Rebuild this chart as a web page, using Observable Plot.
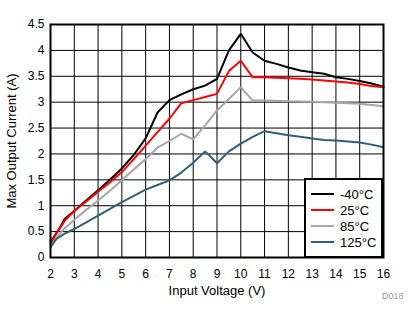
<!DOCTYPE html>
<html>
<head>
<meta charset="utf-8">
<script src="https://cdn.jsdelivr.net/npm/d3@7"></script>
<script src="https://cdn.jsdelivr.net/npm/@observablehq/plot@0.6"></script>
<style>
  body { margin: 0; background: #fff; }
  #wrap { position: relative; width: 420px; height: 324px; font-family: "Liberation Sans", Arial, sans-serif; }
  #legend { position: absolute; left: 304px; top: 178px; width: 79px; height: 80px; box-sizing: border-box; border: 2px solid #000; background: #fff; }
  .row { position: absolute; left: 5px; height: 16px; display: flex; align-items: center; font-size: 13px; color: #000; }
  .sw { width: 23px; height: 2px; margin-right: 6px; }
  #code { position: absolute; left: 382px; top: 291px; font-size: 9px; color: #999; }
</style>
</head>
<body>
<div id="wrap"></div>
<script>
const seriesNames = ["-40°C", "25°C", "85°C", "125°C"];
const seriesColors = ["#000000", "#ff0000", "#a6a6a6", "#2f6079"];

const vM40 = [2, 2.4, 2.6, 3, 3.5, 4, 4.5, 5, 5.5, 6, 6.5, 7, 7.5, 8, 8.5, 9, 9.5, 10, 10.5, 11, 11.5, 12, 12.5, 13, 13.5, 14, 14.5, 15, 15.5, 16];
const aM40 = [0.30, 0.58, 0.75, 0.90, 1.10, 1.30, 1.50, 1.72, 1.98, 2.30, 2.80, 3.04, 3.15, 3.25, 3.32, 3.45, 4.00, 4.32, 3.96, 3.80, 3.74, 3.67, 3.61, 3.58, 3.55, 3.48, 3.45, 3.41, 3.36, 3.30];

const v25 = [2, 2.3, 2.6, 3, 3.5, 4, 4.5, 5, 5.5, 6, 6.5, 7, 7.5, 8, 8.5, 9, 9.5, 10, 10.5, 11, 11.5, 12, 12.5, 13, 13.5, 14, 14.5, 15, 15.5, 16];
const a25 = [0.26, 0.50, 0.71, 0.90, 1.08, 1.27, 1.45, 1.65, 1.90, 2.16, 2.42, 2.68, 2.98, 3.04, 3.10, 3.16, 3.60, 3.80, 3.48, 3.48, 3.47, 3.46, 3.45, 3.44, 3.42, 3.40, 3.38, 3.35, 3.31, 3.29];

const v85 = [2, 2.5, 3, 3.5, 4, 4.5, 5, 5.5, 6, 6.5, 7, 7.5, 8, 8.5, 9, 9.5, 10, 10.5, 11, 12, 13, 13.5, 14, 15, 16];
const a85 = [0.23, 0.52, 0.73, 0.92, 1.10, 1.29, 1.49, 1.70, 1.90, 2.12, 2.25, 2.39, 2.28, 2.55, 2.84, 3.06, 3.29, 3.03, 3.03, 3.02, 3.01, 3.00, 2.99, 2.97, 2.92];

const v125 = [2, 2.25, 2.6, 3, 3.5, 4, 4.5, 5, 5.5, 6, 6.5, 7, 7.5, 8, 8.5, 9, 9.5, 10, 10.5, 11, 11.5, 12, 12.5, 13, 13.5, 14, 14.5, 15, 15.5, 16];
const a125 = [0.20, 0.36, 0.46, 0.55, 0.68, 0.81, 0.94, 1.07, 1.19, 1.31, 1.40, 1.49, 1.64, 1.83, 2.05, 1.82, 2.05, 2.20, 2.33, 2.44, 2.40, 2.36, 2.33, 2.30, 2.27, 2.26, 2.24, 2.22, 2.18, 2.13];

const xTicks = [2, 3, 4, 5, 6, 7, 8, 9, 10, 11, 12, 13, 14, 15, 16];
const yTicks = [0, 0.5, 1, 1.5, 2, 2.5, 3, 3.5, 4, 4.5];

const allV = [vM40, v25, v85, v125];
const allA = [aM40, a25, a85, a125];
const data = [];
allV.forEach((vs, i) => vs.forEach((v, j) => data.push({s: seriesNames[i], v, a: allA[i][j]})));

const chart = Plot.plot({
  width: 420,
  height: 324,
  marginLeft: 50,
  marginRight: 37,
  marginTop: 24,
  marginBottom: 67,
  style: { fontFamily: "'Liberation Sans', Arial, sans-serif", fontSize: "12px", color: "#000", background: "#fff" },
  x: { domain: [2, 16] },
  y: { domain: [0, 4.5] },
  color: { domain: seriesNames, range: seriesColors },
  marks: [
    Plot.gridX(xTicks, { stroke: "#000", strokeOpacity: 1, strokeWidth: 1 }),
    Plot.gridY(yTicks, { stroke: "#000", strokeOpacity: 1, strokeWidth: 1 }),
    Plot.axisX(xTicks, { tickSize: 0, tickPadding: 12, tickFormat: d => String(d), label: "Input Voltage (V)", labelAnchor: "center", labelArrow: "none", labelOffset: 37, fontSize: 12 }),
    Plot.axisY(yTicks, { tickSize: 0, tickPadding: 6, tickFormat: d => String(d), label: "Max Output Current (A)", labelAnchor: "center", labelArrow: "none", labelOffset: 44 }),
    Plot.line(data, { x: "v", y: "a", z: "s", stroke: "s", strokeWidth: 2, strokeLinejoin: "miter" }),
    Plot.frame({ stroke: "#000", strokeWidth: 2 })
  ]
});
chart.querySelectorAll('[aria-label="x-axis label"] text, [aria-label="y-axis label"] text').forEach(t => t.setAttribute("font-size", "13"));

const wrap = document.getElementById("wrap");
wrap.appendChild(chart);

const legend = document.createElement("div");
legend.id = "legend";
seriesNames.forEach((name, i) => {
  const row = document.createElement("div");
  row.className = "row";
  row.style.top = (8 + i * 16 - 2) + "px";
  const sw = document.createElement("div");
  sw.className = "sw";
  sw.style.background = seriesColors[i];
  const tx = document.createElement("span");
  tx.textContent = name;
  row.appendChild(sw);
  row.appendChild(tx);
  legend.appendChild(row);
});
wrap.appendChild(legend);

const code = document.createElement("div");
code.id = "code";
code.textContent = "D018";
wrap.appendChild(code);
</script>
</body>
</html>
